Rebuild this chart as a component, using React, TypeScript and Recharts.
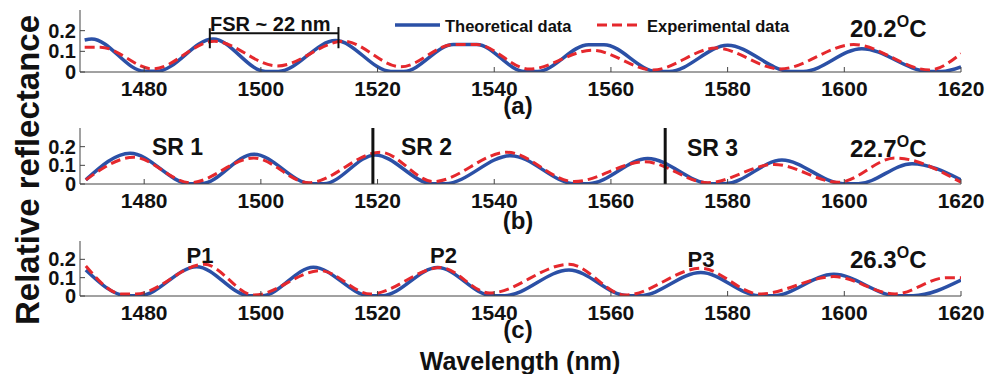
import { Line, LineChart, ReferenceLine, XAxis, YAxis } from "recharts";

const WL_TICKS = [1480, 1500, 1520, 1540, 1560, 1580, 1600, 1620];
const R_TICKS = [0, 0.1, 0.2];

// (a) 20.2 C  -- [wavelength nm, relative reflectance]
const THEO_A: [number, number][] = [
  [1469.8, 0.155], [1471, 0.16], [1480, 0.004], [1482.2, 0.004], [1491.8, 0.16],
  [1500.8, 0.003], [1503, 0.003], [1512.8, 0.152], [1522.3, 0.003], [1524.5, 0.003],
  [1533, 0.133], [1537, 0.133], [1545.2, 0.003], [1547.4, 0.003], [1556.2, 0.132],
  [1558.8, 0.132], [1567.8, 0.003], [1570, 0.003], [1580, 0.129], [1590.8, 0.003],
  [1593, 0.003], [1603, 0.113], [1614.5, 0.003], [1616.7, 0.003], [1620, 0.025],
];
const EXP_A: [number, number][] = [
  [1469.8, 0.12], [1472.5, 0.12], [1481.5, 0.015], [1492, 0.149], [1502.8, 0.029],
  [1514.2, 0.149], [1524, 0.025], [1533, 0.133], [1537, 0.133], [1546, 0.014],
  [1556.8, 0.105], [1567.2, 0.01], [1578, 0.116], [1589, 0.015], [1601.6, 0.133],
  [1614.6, 0.01], [1620, 0.089],
];

// (b) 22.7 C
const THEO_B: [number, number][] = [
  [1470, 0.022], [1477.6, 0.165], [1487.8, 0.002], [1489.8, 0.002], [1498.8, 0.16],
  [1508.6, 0.002], [1510.8, 0.002], [1519.6, 0.156], [1529.4, 0.002], [1531.6, 0.002],
  [1542.8, 0.152], [1553.8, 0.002], [1556.2, 0.002], [1566.3, 0.137], [1577, 0.002],
  [1579.6, 0.002], [1589.3, 0.128], [1599.8, 0.002], [1602.4, 0.002], [1611.6, 0.109],
  [1620, 0.022],
];
const EXP_B: [number, number][] = [
  [1470, 0.022], [1478.2, 0.143], [1487.9, 0.007], [1498.8, 0.139], [1508.2, 0.007],
  [1520.5, 0.17], [1529.6, 0.013], [1542.2, 0.17], [1553.7, 0.013], [1565.8, 0.119],
  [1576.6, 0.007], [1588, 0.105], [1599, 0.009], [1608.7, 0.139], [1620, 0.009],
];

// (c) 26.3 C
const THEO_C: [number, number][] = [
  [1470, 0.142], [1477, 0.002], [1479.2, 0.002], [1489, 0.16], [1498, 0.002],
  [1500.2, 0.002], [1509, 0.157], [1518.6, 0.002], [1520.8, 0.002], [1530.3, 0.155],
  [1539.6, 0.002], [1541.8, 0.002], [1552.8, 0.142], [1562.8, 0.002], [1565, 0.002],
  [1575.4, 0.128], [1585.4, 0.002], [1587.8, 0.002], [1598.2, 0.118], [1609, 0.002],
  [1611.8, 0.002], [1620, 0.087],
];
const EXP_C: [number, number][] = [
  [1470, 0.164], [1476.2, 0.011], [1478.6, 0.011], [1490.3, 0.173], [1498.8, 0.005],
  [1510.2, 0.138], [1518.8, 0.011], [1530.8, 0.155], [1539.2, 0.016], [1552.8, 0.173],
  [1562.5, 0.005], [1575.4, 0.151], [1585.5, 0.011], [1598.2, 0.106], [1608.7, 0.011],
  [1617.5, 0.1], [1620, 0.1],
];

const SR_BOUNDS = [1519.2, 1569.3];
const FSR = [1491.25, 1513.3];

const BLUE = "#2b50a6";
const RED = "#e5282d";
const FRAME = "#444";
const FONT = "'Liberation Sans', Arial, sans-serif";

const pts = (arr: [number, number][]) => arr.map(([x, y]) => ({ x, y }));

function Panel({ top, height, theo, exp, extra }: {
  top: number; height: number; theo: [number, number][]; exp: [number, number][]; extra?: any[];
}) {
  return (
    <div style={{ position: "absolute", left: 0, top }}>
      <LineChart width={986} height={height} margin={{ top: 10, right: 25, left: 0, bottom: 0 }}>
        <XAxis xAxisId="b" type="number" dataKey="x" domain={[1469, 1620]} ticks={WL_TICKS}
          allowDataOverflow interval={0} height={30} tickSize={-5} tickMargin={14} stroke={FRAME}
          tick={{ fontSize: 21, fontWeight: 700, fill: "#111", fontFamily: FONT }} />
        <XAxis xAxisId="t" orientation="top" type="number" dataKey="x" domain={[1469, 1620]}
          ticks={WL_TICKS} allowDataOverflow interval={0} height={0} tickSize={-5} tick={false} stroke={FRAME} />
        <YAxis yAxisId="l" type="number" domain={[0, 0.3]} ticks={R_TICKS} allowDataOverflow interval={0}
          width={80} tickSize={-5} tickMargin={9} stroke={FRAME}
          tickFormatter={(v: number) => (v === 0 ? "0" : String(v))}
          tick={{ fontSize: 20, fontWeight: 700, fill: "#111", fontFamily: FONT }} />
        <YAxis yAxisId="r" orientation="right" type="number" domain={[0, 0.3]} ticks={R_TICKS}
          allowDataOverflow interval={0} width={0} tickSize={-5} tick={false} stroke={FRAME} />
        <Line xAxisId="b" yAxisId="l" data={pts(theo)} dataKey="y" type="monotone" stroke={BLUE}
          strokeWidth={3.5} dot={false} isAnimationActive={false} />
        <Line xAxisId="b" yAxisId="l" data={pts(exp)} dataKey="y" type="monotone" stroke={RED}
          strokeWidth={3} strokeDasharray="10 5" dot={false} isAnimationActive={false} />
        {extra}
      </LineChart>
    </div>
  );
}

const T = { fontFamily: FONT, fontWeight: 700, fill: "#111" } as const;

function Temp({ x, y, v }: { x: number; y: number; v: string }) {
  return (
    <text x={x} y={y} fontSize={24} {...T}>
      {v}
      <tspan dy={-10} fontSize={16}>O</tspan>
      <tspan dy={10}>C</tspan>
    </text>
  );
}

export default function App() {
  return (
    <div style={{ position: "absolute", left: 0, top: 0, width: 986, height: 374, background: "#fff" }}>
      <Panel top={0} height={102} theo={THEO_A} exp={EXP_A} extra={[
        <ReferenceLine key="h" xAxisId="b" yAxisId="l" segment={[{ x: FSR[0], y: 0.187 }, { x: FSR[1], y: 0.187 }]}
          stroke="#111" strokeWidth={2} />,
        <ReferenceLine key="l" xAxisId="b" yAxisId="l" segment={[{ x: FSR[0], y: 0.115 }, { x: FSR[0], y: 0.212 }]}
          stroke="#111" strokeWidth={2} />,
        <ReferenceLine key="r" xAxisId="b" yAxisId="l" segment={[{ x: FSR[1], y: 0.115 }, { x: FSR[1], y: 0.218 }]}
          stroke="#111" strokeWidth={2} />,
      ]} />
      <Panel top={118} height={96} theo={THEO_B} exp={EXP_B} extra={SR_BOUNDS.map((x) => (
        <ReferenceLine key={x} xAxisId="b" yAxisId="l" x={x} stroke="#111" strokeWidth={3} />
      ))} />
      <Panel top={231} height={95} theo={THEO_C} exp={EXP_C} />

      <svg width={986} height={374} style={{ position: "absolute", left: 0, top: 0, pointerEvents: "none" }}>
        {/* panel (a) */}
        <text x={210} y={30.5} fontSize={20} {...T}>FSR ~ 22 nm</text>
        <line x1={395} x2={440} y1={25} y2={25} stroke={BLUE} strokeWidth={3.5} />
        <text x={445} y={32} fontSize={16.5} {...T}>Theoretical data</text>
        <line x1={597} x2={642} y1={25} y2={25} stroke={RED} strokeWidth={3} strokeDasharray="10 5" />
        <text x={647} y={32} fontSize={16.5} {...T}>Experimental data</text>
        <Temp x={850} y={37} v="20.2" />
        <text x={518} y={113.5} fontSize={24} textAnchor="middle" {...T}>(a)</text>

        {/* panel (b) */}
        <text x={177.5} y={155} fontSize={23} textAnchor="middle" {...T}>SR 1</text>
        <text x={426.5} y={155} fontSize={23} textAnchor="middle" {...T}>SR 2</text>
        <text x={712.5} y={156} fontSize={23} textAnchor="middle" {...T}>SR 3</text>
        <Temp x={850} y={156.5} v="22.7" />
        <text x={518} y={229} fontSize={24} textAnchor="middle" {...T}>(b)</text>

        {/* panel (c) */}
        <text x={200} y={263} fontSize={22} textAnchor="middle" {...T}>P1</text>
        <text x={443.5} y={263} fontSize={22} textAnchor="middle" {...T}>P2</text>
        <text x={701} y={267} fontSize={22} textAnchor="middle" {...T}>P3</text>
        <Temp x={850} y={268} v="26.3" />
        <text x={518} y={338} fontSize={24} textAnchor="middle" {...T}>(c)</text>

        <text x={520} y={370} fontSize={25} textAnchor="middle" {...T}>Wavelength (nm)</text>
        <text x={39} y={170} fontSize={33} textAnchor="middle" transform="rotate(-90 39 170)" {...T}>
          Relative reflectance
        </text>
      </svg>
    </div>
  );
}
